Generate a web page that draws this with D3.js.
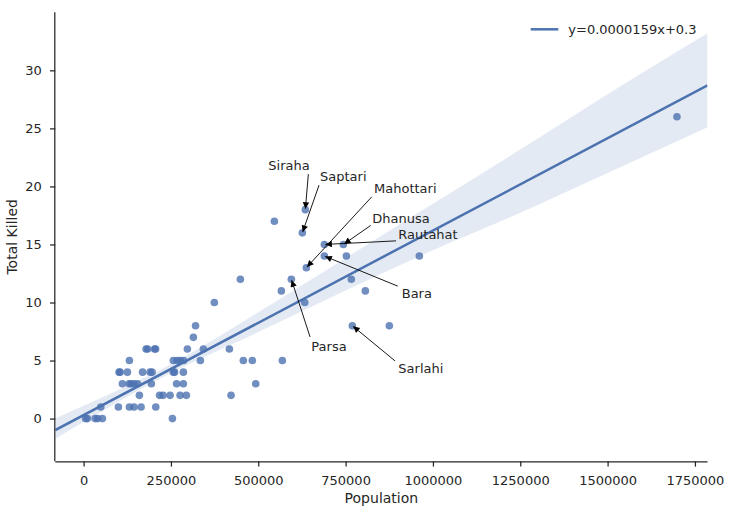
<!DOCTYPE html>
<html><head><meta charset="utf-8">
<script src="https://cdn.jsdelivr.net/npm/d3@7"></script>
<style>
body{margin:0;background:#fff}
svg{display:block}
text{font-family:"DejaVu Sans",sans-serif;fill:#262626}
</style>
</head><body>
<svg id="c" width="731" height="512"></svg>
<script>
// ---- data ----
const population = [
  5700,10900,32900,40100,53800,254200,
  49200,99600,131100,144500,164600,206600,
  159700,217500,227500,247600,276200,294200,422100,
  111000,130200,135900,144500,154600,194000,266200,285600,492800,
  101600,104500,125400,168900,190300,196100,257000,260400,285600,
  131100,257000,267600,277000,286200,334300,457300,483100,569000,
  178900,183200,203200,206100,297100,342900,417300,
  314300,
  320500,769300,875200,
  374300,633100,
  566100,806500,
  448800,594700,766500,
  637700,
  689200,752200,961100,
  689200,743600,
  626200,
  546100,
  634800,
  1698600
];
const killed = [
  0,0,0,0,0,0,
  1,1,1,1,1,1,
  2,2,2,2,2,2,2,
  3,3,3,3,3,3,3,3,3,
  4,4,4,4,4,4,4,4,4,
  5,5,5,5,5,5,5,5,5,
  6,6,6,6,6,6,6,
  7,
  8,8,8,
  10,10,
  11,11,
  12,12,12,
  13,
  14,14,14,
  15,15,
  16,
  17,
  18,
  26
];
const xTicks = [0,250000,500000,750000,1000000,1250000,1500000,1750000];
const yTicks = [0,5,10,15,20,25,30];
const xLabel = "Population";
const yLabel = "Total Killed";
const fitSlope = 0.0000159, fitIntercept = 0.3;
const legendLabel = "y=0.0000159x+0.3";
// confidence band
const ciPop  = [-81000, 0, 250000, 500000, 750000, 1000000, 1250000, 1500000, 1786000];
const ciLow  = [-1.74, -0.3, 3.93, 7.45, 11.03, 14.5, 17.73, 21.15, 25.1];
const ciHigh = [0.01, 1.1, 4.68, 9.15, 13.83, 18.5, 23.18, 27.95, 33.2];
// annotations
const annotNames  = ["Siraha","Saptari","Mahottari","Dhanusa","Rautahat","Bara","Parsa","Sarlahi"];
const annotPop    = [634800, 626200, 637700, 743600, 689200, 689200, 594700, 769300];
const annotKilled = [18, 16, 13, 15, 15, 14, 12, 8];

// ---- layout (data coordinates of label text and arrow tails) ----
const annotTextAt   = [[528900,21.84],[676900,20.83],[831400,19.83],[826600,17.29],[901000,15.86],[910700,10.78],[652000,6.26],[901000,4.31]];
const annotArrowFrom= [[643400,21.06],[674000,20.11],[824800,19.1],[822000,16.64],[894400,15.31],[899300,11.41],[648300,7.03],[891500,4.97]];

const W = 731, H = 512;
const L = 55.3, R = 707.5, T = 12.3, B = 461.3;
const xDomain = [-81000, 1786000];
const yDomain = [-3.68, 35.0];
const blue = "#4C72B0";

const svg = d3.select("#c");
const x = d3.scaleLinear().domain(xDomain).range([L, R]);
const y = d3.scaleLinear().domain(yDomain).range([B, T]);

svg.append("defs").append("clipPath").attr("id","clip")
  .append("rect").attr("x",L).attr("y",T).attr("width",R-L).attr("height",B-T);
const defs = svg.select("defs");
defs.append("marker").attr("id","ah").attr("viewBox","0 0 10 10")
  .attr("refX",10).attr("refY",5).attr("markerWidth",8).attr("markerHeight",6.5)
  .attr("markerUnits","userSpaceOnUse").attr("orient","auto")
  .append("path").attr("d","M0,0 L10,5 L0,10 z").attr("fill","#000");

const plot = svg.append("g").attr("clip-path","url(#clip)");

// scatter
const pts = population.map((p,i)=>({p, k: killed[i]}));
plot.selectAll("circle.pt").data(pts).enter().append("circle")
  .attr("class","pt")
  .attr("cx", d=>x(d.p)).attr("cy", d=>y(d.k)).attr("r",3.8)
  .attr("fill", blue).attr("fill-opacity",0.8);

// CI band
const band = ciPop.map((p,i)=>({p, lo: ciLow[i], hi: ciHigh[i]}));
plot.append("path").datum(band)
  .attr("d", d3.area().x(d=>x(d.p)).y0(d=>y(d.lo)).y1(d=>y(d.hi)).curve(d3.curveMonotoneX))
  .attr("fill", blue).attr("fill-opacity",0.15);

// regression line
const fitPts = xDomain.map(p=>({p, v: fitSlope*p + fitIntercept}));
plot.append("path").datum(fitPts)
  .attr("d", d3.line().x(d=>x(d.p)).y(d=>y(d.v)))
  .attr("fill","none").attr("stroke", blue).attr("stroke-width",2.5);

// axes
const xAxis = svg.append("g").attr("transform",`translate(0,${B})`)
  .call(d3.axisBottom(x).tickValues(xTicks).tickFormat(d3.format("d")).tickSize(5.3).tickPadding(9.5).tickSizeOuter(0));
const yAxis = svg.append("g").attr("transform",`translate(${L},0)`)
  .call(d3.axisLeft(y).tickValues(yTicks).tickFormat(d3.format("d")).tickSize(5.3).tickPadding(8.3).tickSizeOuter(0));
[xAxis,yAxis].forEach(g=>{
  g.select(".domain").attr("stroke","#262626").attr("stroke-width",1.25);
  g.selectAll(".tick line").attr("stroke","#262626").attr("stroke-width",1.25);
  g.selectAll(".tick text").attr("fill","#262626").style("font-size","13px").style("font-family","DejaVu Sans");
});
// full-length spines
xAxis.select(".domain").attr("d",`M${L},0.5H${R}`);
yAxis.select(".domain").attr("d",`M-0.5,${T}V${B}`);

svg.append("text").attr("x",(L+R)/2).attr("y",503).attr("text-anchor","middle")
  .style("font-size","14px").text(xLabel);
svg.append("text").attr("transform",`translate(16.7,${(T+B)/2}) rotate(-90)`)
  .attr("text-anchor","middle").style("font-size","14px").text(yLabel);

// annotations
annotNames.forEach((name,i)=>{
  const [tp,tv] = annotTextAt[i];
  const [ap,av] = annotArrowFrom[i];
  const x0 = x(ap), y0 = y(av), x1 = x(annotPop[i]), y1 = y(annotKilled[i]);
  const dx = x1-x0, dy = y1-y0, len = Math.hypot(dx,dy);
  const s = (len-1)/len;
  svg.append("line").attr("x1",x0).attr("y1",y0).attr("x2",x0+dx*s).attr("y2",y0+dy*s)
    .attr("stroke","#000").attr("stroke-width",0.9).attr("marker-end","url(#ah)");
  svg.append("text").attr("x",x(tp)).attr("y",y(tv)).attr("dy","0.36em")
    .style("font-size","13px").text(name);
});

// legend
svg.append("line").attr("x1",530.7).attr("x2",558.3).attr("y1",29.3).attr("y2",29.3)
  .attr("stroke",blue).attr("stroke-width",2.5);
svg.append("text").attr("x",568.3).attr("y",29.3).attr("dy","0.36em")
  .style("font-size","13px").text(legendLabel);
</script>
</body></html>
